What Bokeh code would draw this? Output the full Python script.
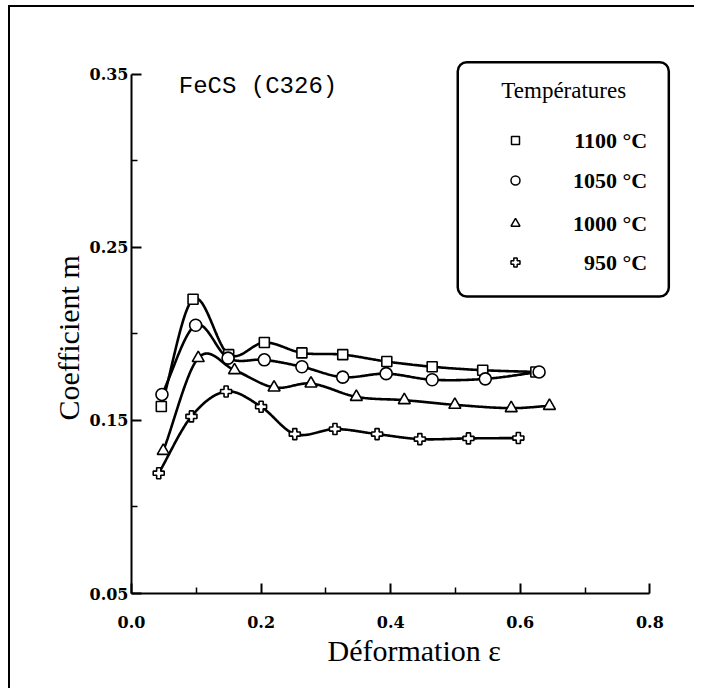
import numpy as np
from bokeh.plotting import figure
from bokeh.models import Label, BoxAnnotation, FixedTicker, PrintfTickFormatter, ColumnDataSource, Title
from bokeh.embed import file_html
from bokeh.resources import INLINE

# ---- data ----
eps_1100 = [0.046, 0.095, 0.150, 0.205, 0.263, 0.326, 0.394, 0.464, 0.542, 0.624]
m_1100   = [0.158, 0.220, 0.188, 0.195, 0.189, 0.188, 0.184, 0.181, 0.179, 0.178]
eps_1050 = [0.047, 0.099, 0.149, 0.205, 0.263, 0.326, 0.393, 0.464, 0.546, 0.629]
m_1050   = [0.165, 0.205, 0.186, 0.185, 0.181, 0.175, 0.177, 0.1735, 0.174, 0.178]
eps_1000 = [0.049, 0.103, 0.159, 0.220, 0.277, 0.347, 0.421, 0.499, 0.586, 0.645]
m_1000   = [0.1324, 0.186, 0.179, 0.169, 0.1713, 0.1636, 0.1617, 0.159, 0.1571, 0.1584]
eps_950  = [0.042, 0.0925, 0.146, 0.200, 0.252, 0.314, 0.379, 0.445, 0.520, 0.597]
m_950    = [0.1195, 0.1523, 0.1667, 0.1579, 0.1421, 0.145, 0.1421, 0.1392, 0.1396, 0.1398]

series_labels = ["1100 °C", "1050 °C", "1000 °C", "950 °C"]
series_markers = ["square", "circle", "triangle", "plus"]
x_ticks = [0.0, 0.2, 0.4, 0.6, 0.8]
x_minor = [0.1, 0.3, 0.5, 0.7]
y_ticks = [0.05, 0.15, 0.25, 0.35]
y_minor = [0.10, 0.20, 0.30]

series = [(eps_1100, m_1100), (eps_1050, m_1050), (eps_1000, m_1000), (eps_950, m_950)]
marker_sizes = {"square": 10, "circle": 12, "triangle": 12, "plus": 11}


def smooth(xs, ys, n=40):
    """Cubic Hermite (Catmull-Rom style) curve through the data points."""
    x = np.asarray(xs, float)
    y = np.asarray(ys, float)
    m = np.zeros_like(y)
    m[1:-1] = (y[2:] - y[:-2]) / (x[2:] - x[:-2])
    m[0] = (y[1] - y[0]) / (x[1] - x[0])
    m[-1] = (y[-1] - y[-2]) / (x[-1] - x[-2])
    ox, oy = [], []
    for i in range(len(x) - 1):
        h = x[i + 1] - x[i]
        t = np.linspace(0, 1, n, endpoint=False)
        h00 = 2 * t**3 - 3 * t**2 + 1
        h10 = t**3 - 2 * t**2 + t
        h01 = -2 * t**3 + 3 * t**2
        h11 = t**3 - t**2
        ox.extend(x[i] + t * h)
        oy.extend(h00 * y[i] + h10 * h * m[i] + h01 * y[i + 1] + h11 * h * m[i + 1])
    ox.append(x[-1])
    oy.append(y[-1])
    return ox, oy


p = figure(width=686, height=683, x_range=(0, 0.8457), y_range=(0.05, 0.3637),
           output_backend="svg", toolbar_location=None,
           min_border_left=121, min_border_right=17, min_border_top=43, min_border_bottom=97)
p.outline_line_color = None
p.grid.visible = False
p.background_fill_color = "white"
p.border_fill_color = "white"
p.styles = {"border-left": "2px solid black", "border-top": "2px solid black",
            "margin-left": "8px", "margin-top": "5px"}

for ax in (p.xaxis[0], p.yaxis[0]):
    ax.axis_line_width = 2
    ax.major_tick_line_width = 2
    ax.minor_tick_line_width = 1.5
    ax.major_tick_in = 10
    ax.major_tick_out = 0
    ax.minor_tick_in = 6
    ax.minor_tick_out = 0
    ax.major_label_text_font = "DejaVu Serif"
    ax.major_label_text_font_style = "bold"
    ax.major_label_text_font_size = "16px"
    ax.major_label_text_color = "black"

p.xaxis.bounds = (0, 0.8)
p.yaxis.bounds = (0.05, 0.35)
p.xaxis.ticker = FixedTicker(ticks=x_ticks, minor_ticks=x_minor)
p.yaxis.ticker = FixedTicker(ticks=y_ticks, minor_ticks=y_minor)
p.xaxis.formatter = PrintfTickFormatter(format="%.1f")
p.yaxis.formatter = PrintfTickFormatter(format="%.2f")
p.xaxis.major_label_standoff = 22
p.yaxis.major_label_standoff = 3

for (xs, ys), mk in zip(series, series_markers):
    cx, cy = smooth(xs, ys)
    p.line(cx, cy, line_color="black", line_width=2.6)
for (xs, ys), mk in zip(series, series_markers):
    src = ColumnDataSource(dict(x=xs, y=ys))
    p.scatter("x", "y", source=src, marker=mk, size=marker_sizes[mk],
              fill_color="white", line_color="black", line_width=1.6)

# axis titles (as side titles so they can be offset like the reference)
p.add_layout(Title(text="Déformation ε", align="left", offset=196, standoff=2,
                   text_font="Liberation Serif", text_font_size="30px",
                   text_font_style="normal", text_color="black"), "below")
p.add_layout(Title(text="Coefficient m", align="left", offset=173, standoff=4,
                   text_font="Liberation Serif", text_font_size="30px",
                   text_font_style="normal", text_color="black"), "left")

# material label
p.add_layout(Label(x=0.073, y=0.3429, text="FeCS (C326)", text_font="Liberation Mono",
                   text_font_size="24px", text_baseline="middle", text_align="left",
                   text_color="black"))

# legend box
p.add_layout(BoxAnnotation(left=0.5035, right=0.8292, bottom=0.2216, top=0.3569,
                           fill_alpha=0, line_color="black", line_alpha=1, line_width=2.5,
                           border_radius=9))
p.add_layout(Label(x=0.6671, y=0.3406, text="Températures", text_font="Liberation Serif",
                   text_font_size="23px", text_baseline="middle", text_align="center",
                   text_color="black"))
leg_y = [0.3117, 0.2886, 0.2637, 0.2412]
p.scatter(x=[0.5926] * 4, y=leg_y, marker=series_markers,
          size=[8, 9, 9, 9], fill_color="white", line_color="black", line_width=1.5)
for ly, lab in zip(leg_y, series_labels):
    p.add_layout(Label(x=0.7958, y=ly, text=lab, text_font="Liberation Serif",
                       text_font_size="22px", text_font_style="bold",
                       text_baseline="middle", text_align="right", text_color="black"))

open("out.html", "w").write(file_html(p, INLINE))
